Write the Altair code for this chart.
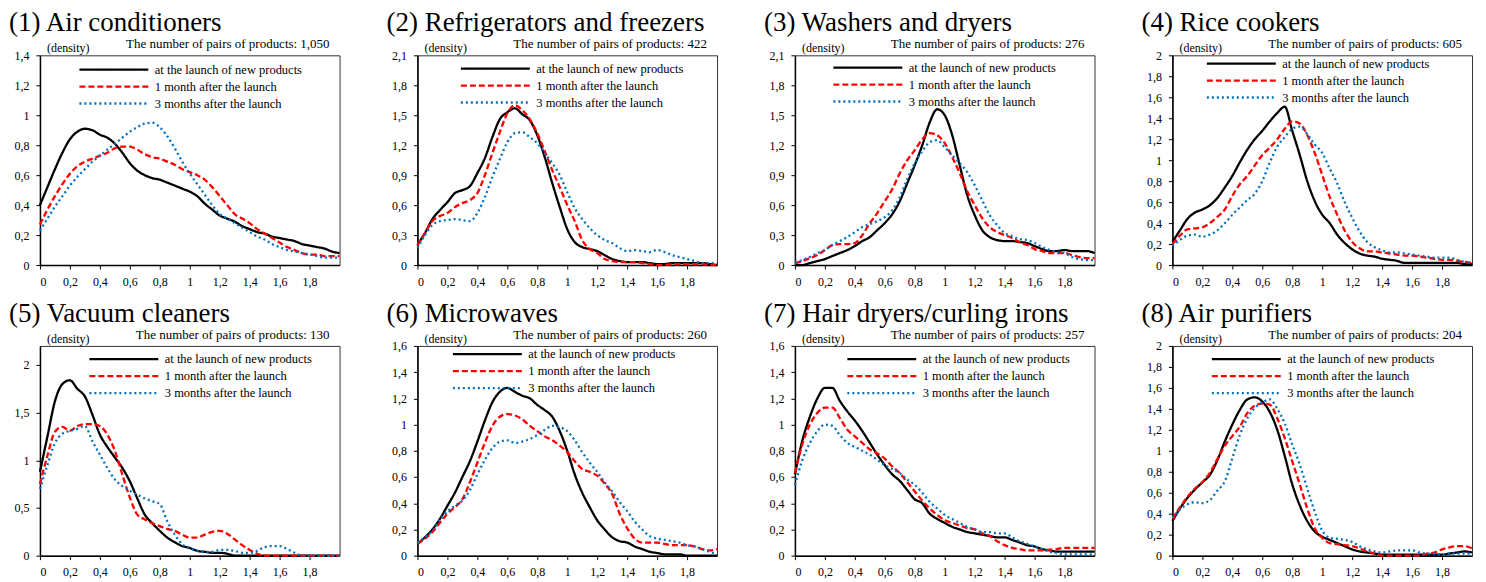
import altair as alt
import pandas as pd

X = [0.0, 0.05, 0.1, 0.15, 0.2, 0.25, 0.3, 0.35, 0.4, 0.45,
     0.5, 0.55, 0.6, 0.65, 0.7, 0.75, 0.8, 0.85, 0.9, 0.95,
     1.0, 1.05, 1.1, 1.15, 1.2, 1.25, 1.3, 1.35, 1.4, 1.45,
     1.5, 1.55, 1.6, 1.65, 1.7, 1.75, 1.8, 1.85, 1.9, 1.95, 2.0]
X_TICKS = [0, 0.2, 0.4, 0.6, 0.8, 1.0, 1.2, 1.4, 1.6, 1.8]

SERIES = ["at the launch  of new products", "1 month after  the launch", "3 months after  the launch"]
COLORS = ["#000000", "#ff0000", "#0070c0"]
DASHES = [[1, 0], [6, 3], [2, 3]]

TITLES = ["(1) Air conditioners", "(2) Refrigerators and freezers", "(3) Washers and dryers",
          "(4) Rice cookers", "(5) Vacuum cleaners", "(6) Microwaves",
          "(7) Hair dryers/curling irons", "(8) Air purifiers"]
PAIRS = ["1,050", "422", "276", "605", "130", "260", "257", "204"]
Y_MAX = [1.4, 2.1, 2.1, 2.0, 2.2, 1.6, 1.6, 2.0]
Y_TICKS = [
    [0, 0.2, 0.4, 0.6, 0.8, 1.0, 1.2, 1.4],
    [0, 0.3, 0.6, 0.9, 1.2, 1.5, 1.8, 2.1],
    [0, 0.3, 0.6, 0.9, 1.2, 1.5, 1.8, 2.1],
    [0, 0.2, 0.4, 0.6, 0.8, 1.0, 1.2, 1.4, 1.6, 1.8, 2.0],
    [0, 0.5, 1.0, 1.5, 2.0],
    [0, 0.2, 0.4, 0.6, 0.8, 1.0, 1.2, 1.4, 1.6],
    [0, 0.2, 0.4, 0.6, 0.8, 1.0, 1.2, 1.4, 1.6],
    [0, 0.2, 0.4, 0.6, 0.8, 1.0, 1.2, 1.4, 1.6, 1.8, 2.0],
]

# (1) Air conditioners
AC_0 = [0.40, 0.52, 0.64, 0.75, 0.84, 0.89, 0.91, 0.90, 0.87, 0.85,
        0.81, 0.75, 0.68, 0.63, 0.60, 0.58, 0.57, 0.55, 0.53, 0.51,
        0.49, 0.46, 0.41, 0.37, 0.33, 0.31, 0.29, 0.26, 0.24, 0.22,
        0.21, 0.19, 0.18, 0.17, 0.16, 0.14, 0.13, 0.12, 0.11, 0.09, 0.08]
AC_1 = [0.27, 0.37, 0.46, 0.54, 0.61, 0.66, 0.69, 0.71, 0.73, 0.75,
        0.78, 0.79, 0.79, 0.77, 0.74, 0.72, 0.71, 0.69, 0.67, 0.64,
        0.62, 0.60, 0.57, 0.52, 0.46, 0.40, 0.34, 0.31, 0.28, 0.24,
        0.21, 0.18, 0.15, 0.12, 0.10, 0.08, 0.07, 0.07, 0.06, 0.06, 0.06]
AC_3 = [0.23, 0.31, 0.39, 0.46, 0.53, 0.59, 0.64, 0.69, 0.73, 0.77,
        0.81, 0.85, 0.89, 0.92, 0.945, 0.95, 0.92, 0.86, 0.78, 0.69,
        0.61, 0.54, 0.47, 0.40, 0.34, 0.31, 0.28, 0.25, 0.22, 0.19,
        0.17, 0.14, 0.12, 0.10, 0.09, 0.08, 0.07, 0.06, 0.05, 0.05, 0.05]
# (2) Refrigerators and freezers
RF_0 = [0.20, 0.32, 0.46, 0.55, 0.63, 0.72, 0.75, 0.79, 0.92, 1.07,
        1.28, 1.46, 1.53, 1.57, 1.51, 1.45, 1.30, 1.08, 0.82, 0.58,
        0.36, 0.23, 0.18, 0.16, 0.14, 0.10, 0.06, 0.04, 0.03, 0.03,
        0.03, 0.02, 0.01, 0.01, 0.02, 0.02, 0.02, 0.02, 0.02, 0.01, 0.0]
RF_1 = [0.20, 0.32, 0.44, 0.49, 0.52, 0.58, 0.62, 0.65, 0.72, 0.90,
        1.12, 1.33, 1.52, 1.60, 1.55, 1.46, 1.32, 1.14, 0.95, 0.78,
        0.60, 0.44, 0.25, 0.16, 0.12, 0.06, 0.04, 0.03, 0.03, 0.03,
        0.02, 0.01, 0.0, 0.0, 0.01, 0.01, 0.01, 0.01, 0.01, 0.0, 0.0]
RF_3 = [0.17, 0.30, 0.40, 0.44, 0.45, 0.46, 0.45, 0.44, 0.52, 0.68,
        0.88, 1.06, 1.23, 1.32, 1.33, 1.28, 1.22, 1.12, 1.02, 0.90,
        0.73, 0.57, 0.46, 0.37, 0.30, 0.25, 0.22, 0.17, 0.14, 0.15,
        0.14, 0.13, 0.15, 0.13, 0.10, 0.08, 0.06, 0.04, 0.02, 0.02, 0.02]
# (3) Washers and dryers
WD_0 = [0.0, 0.0, 0.02, 0.04, 0.06, 0.09, 0.12, 0.15, 0.19, 0.24,
        0.28, 0.35, 0.42, 0.51, 0.64, 0.82, 1.00, 1.20, 1.43, 1.56,
        1.50, 1.30, 1.00, 0.70, 0.50, 0.35, 0.28, 0.25, 0.24, 0.24,
        0.23, 0.22, 0.19, 0.16, 0.14, 0.14, 0.15, 0.14, 0.14, 0.14, 0.12]
WD_1 = [0.02, 0.04, 0.07, 0.10, 0.15, 0.20, 0.21, 0.21, 0.22, 0.30,
        0.42, 0.52, 0.64, 0.76, 0.92, 1.05, 1.15, 1.26, 1.32, 1.30,
        1.22, 1.08, 0.92, 0.74, 0.60, 0.47, 0.38, 0.33, 0.30, 0.27,
        0.23, 0.20, 0.16, 0.14, 0.12, 0.12, 0.12, 0.10, 0.08, 0.07, 0.07]
WD_3 = [0.03, 0.05, 0.08, 0.12, 0.15, 0.20, 0.24, 0.28, 0.33, 0.38,
        0.41, 0.44, 0.48, 0.55, 0.68, 0.86, 1.02, 1.14, 1.23, 1.25,
        1.18, 1.10, 1.02, 0.93, 0.80, 0.65, 0.50, 0.40, 0.32, 0.29,
        0.26, 0.25, 0.22, 0.18, 0.15, 0.13, 0.12, 0.08, 0.06, 0.05, 0.05]
# (4) Rice cookers
RC_0 = [0.22, 0.33, 0.44, 0.50, 0.53, 0.57, 0.64, 0.74, 0.85, 0.98,
        1.10, 1.20, 1.28, 1.37, 1.45, 1.51, 1.28, 1.05, 0.80, 0.61,
        0.48, 0.40, 0.29, 0.21, 0.15, 0.11, 0.09, 0.08, 0.06, 0.05,
        0.04, 0.02, 0.02, 0.02, 0.02, 0.02, 0.02, 0.02, 0.02, 0.01, 0.01]
RC_1 = [0.20, 0.28, 0.34, 0.35, 0.36, 0.40, 0.46, 0.53, 0.66, 0.77,
        0.85, 0.95, 1.05, 1.12, 1.20, 1.30, 1.37, 1.35, 1.24, 1.07,
        0.86, 0.65, 0.48, 0.33, 0.22, 0.16, 0.13, 0.13, 0.12, 0.11,
        0.10, 0.09, 0.09, 0.08, 0.07, 0.06, 0.05, 0.05, 0.04, 0.03, 0.02]
RC_3 = [0.18, 0.24, 0.28, 0.29, 0.27, 0.29, 0.33, 0.40, 0.48, 0.55,
        0.62, 0.68, 0.80, 0.98, 1.13, 1.22, 1.30, 1.32, 1.25, 1.15,
        1.07, 0.92, 0.78, 0.60, 0.45, 0.32, 0.22, 0.17, 0.14, 0.12,
        0.12, 0.11, 0.10, 0.09, 0.08, 0.07, 0.07, 0.07, 0.05, 0.03, 0.02]
# (5) Vacuum cleaners
VC_0 = [0.88, 1.25, 1.62, 1.80, 1.84, 1.75, 1.67, 1.48, 1.27, 1.14,
        1.03, 0.92, 0.78, 0.60, 0.43, 0.34, 0.26, 0.19, 0.14, 0.10,
        0.08, 0.05, 0.04, 0.03, 0.03, 0.02, 0.0, 0.0, 0.0, 0.0,
        0.0, 0.0, 0.0, 0.0, 0.0, 0.0, 0.0, 0.0, 0.0, 0.0, 0.0]
VC_1 = [0.75, 1.05, 1.30, 1.35, 1.31, 1.36, 1.38, 1.38, 1.36, 1.27,
        1.10, 0.85, 0.61, 0.43, 0.38, 0.34, 0.31, 0.28, 0.26, 0.22,
        0.19, 0.19, 0.22, 0.25, 0.26, 0.23, 0.17, 0.11, 0.06, 0.02,
        0.0, 0.0, 0.0, 0.0, 0.0, 0.0, 0.0, 0.0, 0.0, 0.0, 0.0]
VC_3 = [0.70, 0.95, 1.18, 1.28, 1.31, 1.33, 1.36, 1.20, 1.06, 0.92,
        0.80, 0.73, 0.68, 0.64, 0.60, 0.57, 0.54, 0.36, 0.22, 0.12,
        0.08, 0.05, 0.04, 0.04, 0.06, 0.06, 0.05, 0.03, 0.03, 0.05,
        0.09, 0.10, 0.10, 0.07, 0.03, 0.0, 0.0, 0.0, 0.0, 0.0, 0.0]
# (6) Microwaves
MW_0 = [0.09, 0.14, 0.20, 0.28, 0.38, 0.48, 0.60, 0.72, 0.87, 1.03,
        1.17, 1.25, 1.28, 1.25, 1.22, 1.20, 1.15, 1.11, 1.06, 0.95,
        0.80, 0.62, 0.48, 0.37, 0.27, 0.20, 0.14, 0.11, 0.10, 0.07,
        0.05, 0.03, 0.02, 0.01, 0.01, 0.01, 0.0, 0.0, 0.0, 0.0, 0.0]
MW_1 = [0.09, 0.13, 0.18, 0.25, 0.32, 0.37, 0.43, 0.56, 0.71, 0.86,
        0.99, 1.06, 1.08, 1.07, 1.04, 0.99, 0.95, 0.91, 0.88, 0.84,
        0.79, 0.72, 0.66, 0.64, 0.61, 0.55, 0.47, 0.32, 0.21, 0.13,
        0.10, 0.10, 0.10, 0.09, 0.08, 0.08, 0.08, 0.07, 0.05, 0.04, 0.05]
MW_3 = [0.10, 0.14, 0.19, 0.27, 0.34, 0.38, 0.42, 0.50, 0.62, 0.73,
        0.82, 0.87, 0.88, 0.86, 0.87, 0.89, 0.92, 0.96, 0.99, 0.98,
        0.95, 0.88, 0.79, 0.71, 0.64, 0.56, 0.49, 0.41, 0.34, 0.26,
        0.20, 0.15, 0.13, 0.12, 0.11, 0.10, 0.08, 0.07, 0.05, 0.03, 0.01]
# (7) Hair dryers/curling irons
HD_0 = [0.62, 0.88, 1.06, 1.20, 1.28, 1.28, 1.18, 1.10, 1.03, 0.95,
        0.86, 0.77, 0.69, 0.62, 0.57, 0.50, 0.43, 0.40, 0.32, 0.28,
        0.25, 0.22, 0.20, 0.18, 0.17, 0.16, 0.15, 0.14, 0.14, 0.12,
        0.10, 0.08, 0.07, 0.05, 0.04, 0.03, 0.03, 0.03, 0.03, 0.03, 0.03]
HD_1 = [0.63, 0.85, 1.00, 1.09, 1.13, 1.13, 1.05, 0.96, 0.91, 0.86,
        0.81, 0.78, 0.74, 0.68, 0.63, 0.56, 0.49, 0.42, 0.36, 0.31,
        0.27, 0.25, 0.23, 0.21, 0.20, 0.17, 0.15, 0.11, 0.08, 0.06,
        0.05, 0.04, 0.04, 0.04, 0.045, 0.05, 0.06, 0.06, 0.06, 0.06, 0.06]
HD_3 = [0.54, 0.73, 0.86, 0.95, 1.00, 0.99, 0.92, 0.86, 0.83, 0.80,
        0.77, 0.73, 0.69, 0.66, 0.63, 0.58, 0.54, 0.48, 0.41, 0.36,
        0.31, 0.28, 0.25, 0.22, 0.20, 0.18, 0.18, 0.17, 0.17, 0.14,
        0.11, 0.09, 0.07, 0.05, 0.03, 0.02, 0.01, 0.01, 0.01, 0.01, 0.01]
# (8) Air purifiers
AP_0 = [0.33, 0.45, 0.55, 0.63, 0.70, 0.77, 0.91, 1.09, 1.25, 1.39,
        1.49, 1.51, 1.47, 1.37, 1.20, 0.95, 0.68, 0.48, 0.33, 0.23,
        0.18, 0.15, 0.12, 0.09, 0.06, 0.04, 0.03, 0.02, 0.01, 0.01,
        0.01, 0.01, 0.01, 0.01, 0.01, 0.01, 0.01, 0.02, 0.03, 0.04, 0.03]
AP_1 = [0.35, 0.46, 0.56, 0.64, 0.70, 0.79, 0.92, 1.05, 1.14, 1.23,
        1.36, 1.43, 1.45, 1.44, 1.31, 1.12, 0.90, 0.68, 0.45, 0.26,
        0.17, 0.12, 0.11, 0.10, 0.09, 0.07, 0.04, 0.02, 0.0, 0.0,
        0.0, 0.0, 0.0, 0.0, 0.02, 0.03, 0.06, 0.08, 0.09, 0.09, 0.07]
AP_3 = [0.36, 0.44, 0.49, 0.51, 0.50, 0.53, 0.62, 0.71, 0.93, 1.15,
        1.31, 1.41, 1.46, 1.49, 1.40, 1.26, 1.06, 0.87, 0.64, 0.42,
        0.24, 0.17, 0.16, 0.15, 0.13, 0.09, 0.06, 0.04, 0.03, 0.04,
        0.05, 0.05, 0.05, 0.03, 0.02, 0.02, 0.01, 0.02, 0.02, 0.02, 0.02]

CURVES = [(AC_0, AC_1, AC_3), (RF_0, RF_1, RF_3), (WD_0, WD_1, WD_3), (RC_0, RC_1, RC_3),
          (VC_0, VC_1, VC_3), (MW_0, MW_1, MW_3), (HD_0, HD_1, HD_3), (AP_0, AP_1, AP_3)]

# layout (pixels, relative to each plot area)
W, H = 300, 210
LEGEND_POS = [(38, 6), (42, 5), (37, 4), (33, 0), (48, 5), (34, 0), (51, 5), (38, 5)]
SERIF = "Liberation Serif"


def axis(values):
    return alt.Axis(values=values, format=".1~f", labelExpr="replace(datum.label, '.', ',')",
                    title=None, labelFont=SERIF, labelFontSize=12, labelColor="black",
                    grid=False, domainColor="black", domainWidth=1.5, tickColor="black",
                    tickSize=4, labelPadding=7)


def panel(i):
    rows = []
    for s, vals in zip(SERIES, CURVES[i]):
        for xv, yv in zip(X, vals):
            rows.append({"x": xv, "y": yv, "series": s})
    df = pd.DataFrame(rows)
    lx, ly = LEGEND_POS[i]
    leg = alt.Legend(orient="none", legendX=lx, legendY=ly, title=None,
                     symbolType="stroke", symbolSize=69 * 69, symbolStrokeWidth=2.3,
                     clipHeight=16.5, rowPadding=0, labelFont=SERIF, labelFontSize=12.5,
                     labelColor="black", labelOffset=5, labelLimit=400, padding=0)
    lines = alt.Chart(df).mark_line(interpolate="monotone", strokeWidth=2.3).encode(
        x=alt.X("x:Q", scale=alt.Scale(domain=[0, 2], nice=False, zero=False), axis=axis(X_TICKS)),
        y=alt.Y("y:Q", scale=alt.Scale(domain=[0, Y_MAX[i]], nice=False), axis=axis(Y_TICKS[i])),
        color=alt.Color("series:N", scale=alt.Scale(domain=SERIES, range=COLORS), legend=leg),
        strokeDash=alt.StrokeDash("series:N", scale=alt.Scale(domain=SERIES, range=DASHES), legend=leg),
    )
    title = alt.Chart(pd.DataFrame({"t": [TITLES[i]]})).mark_text(
        align="left", baseline="alphabetic", font=SERIF, fontSize=27, color="black"
    ).encode(text="t:N", x=alt.value(-31), y=alt.value(-24))
    dens = alt.Chart(pd.DataFrame({"t": ["(density)"]})).mark_text(
        align="left", baseline="alphabetic", font=SERIF, fontSize=12, color="black"
    ).encode(text="t:N", x=alt.value(7), y=alt.value(-3))
    pairs = alt.Chart(pd.DataFrame({"t": ["The number of pairs of products:  " + PAIRS[i]]})).mark_text(
        align="right", baseline="alphabetic", font=SERIF, fontSize=13, color="black"
    ).encode(text="t:N", x=alt.value(W - 10), y=alt.value(-7))
    return alt.layer(lines, title, dens, pairs).properties(width=W, height=H)


chart = alt.concat(
    *[panel(i) for i in range(8)], columns=4,
    spacing={"row": 81, "column": 78}, bounds="flush"
).resolve_scale(
    x="independent", y="independent", color="independent", strokeDash="independent"
).properties(
    padding={"left": 0, "top": 0, "right": 0, "bottom": 0}
).configure_view(
    stroke="#333333", strokeWidth=1
).configure_axis(
    labelFont=SERIF, labelFontSize=12, labelColor="black", grid=False,
    domainColor="black", domainWidth=1.5, tickColor="black", tickSize=4, labelPadding=7
)

chart.save("out.html", embed_options={"renderer": "svg", "actions": False})
